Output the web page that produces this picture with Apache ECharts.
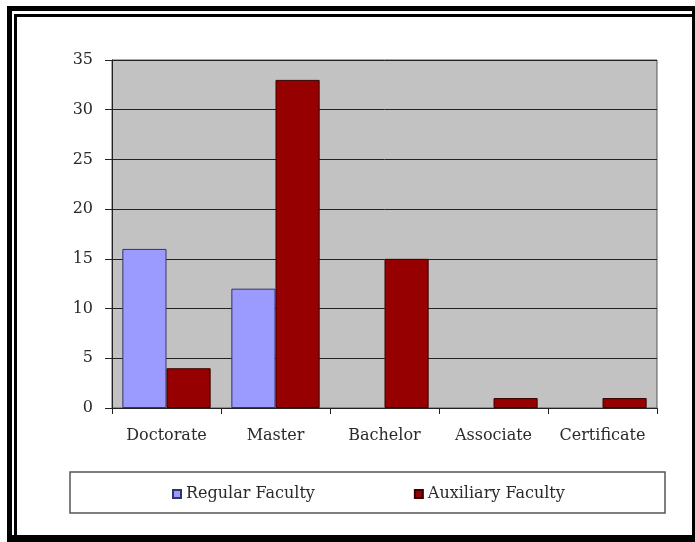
<!DOCTYPE html>
<html><head><meta charset="utf-8">
<script src="https://cdn.jsdelivr.net/npm/echarts@6/dist/echarts.min.js"></script>
<style>html,body{margin:0;padding:0;background:#fff}#c{width:695px;height:542px}</style>
</head><body><div id="c"></div>
<script>
const categories = ['Doctorate', 'Master', 'Bachelor', 'Associate', 'Certificate'];
const regularFaculty = [16, 12, 0, 0, 0];
const auxiliaryFaculty = [4, 33, 15, 1, 1];
const yTicks = [0, 5, 10, 15, 20, 25, 30, 35];

const hideZero = v => v === 0 ? {value: v, itemStyle: {borderWidth: 0, opacity: 0}} : v;

const chart = echarts.init(document.getElementById('c'), null, {renderer: 'canvas'});
const font = '"DejaVu Serif", "Liberation Serif", serif';
chart.setOption({
  animation: false,
  backgroundColor: '#fff',
  grid: {left: 112, right: 38, top: 60, bottom: 134, show: true, backgroundColor: '#c2c2c2', borderColor: '#555', borderWidth: 1},
  xAxis: {
    type: 'category', data: categories,
    axisLine: {lineStyle: {color: '#222', width: 1}},
    axisTick: {show: true, length: 6, inside: false, interval: 0, lineStyle: {color: '#222'}},
    axisLabel: {fontFamily: font, fontSize: 16, color: '#2a2a2a', margin: 20, interval: 0, hideOverlap: false}
  },
  yAxis: {
    type: 'value', min: yTicks[0], max: yTicks[yTicks.length - 1], interval: 5,
    axisLine: {show: true, lineStyle: {color: '#222', width: 1}},
    axisTick: {show: true, length: 7, lineStyle: {color: '#222'}},
    axisLabel: {fontFamily: font, fontSize: 16, color: '#2a2a2a', margin: 19},
    splitLine: {lineStyle: {color: '#222', width: 1}}
  },
  legend: {
    left: 167, top: 481, itemWidth: 8, itemHeight: 8, itemGap: 99, icon: 'rect',
    textStyle: {fontFamily: font, fontSize: 16, color: '#2a2a2a'}
  },
  series: [
    {name: 'Regular Faculty', type: 'bar', data: regularFaculty.map(hideZero), barGap: '0%', barCategoryGap: '19%',
     itemStyle: {color: '#9b9bff', borderColor: '#333366', borderWidth: 1}},
    {name: 'Auxiliary Faculty', type: 'bar', data: auxiliaryFaculty.map(hideZero),
     itemStyle: {color: '#960000', borderColor: '#3a0000', borderWidth: 1}}
  ],
  graphic: [
    {type: 'rect', shape: {x: 70, y: 472, width: 595, height: 41}, style: {fill: 'none', stroke: '#555', lineWidth: 1.5}, z: 10},
    {type: 'rect', shape: {x: 7, y: 6, width: 688, height: 5}, style: {fill: '#000'}, z: 10},
    {type: 'rect', shape: {x: 7, y: 6, width: 5, height: 536}, style: {fill: '#000'}, z: 10},
    {type: 'rect', shape: {x: 14, y: 14, width: 679, height: 3}, style: {fill: '#000'}, z: 10},
    {type: 'rect', shape: {x: 14, y: 14, width: 3, height: 522}, style: {fill: '#000'}, z: 10},
    {type: 'rect', shape: {x: 7, y: 535, width: 688, height: 7}, style: {fill: '#000'}, z: 10},
    {type: 'rect', shape: {x: 692, y: 6, width: 3, height: 536}, style: {fill: '#000'}, z: 10}
  ]
});
</script></body></html>
